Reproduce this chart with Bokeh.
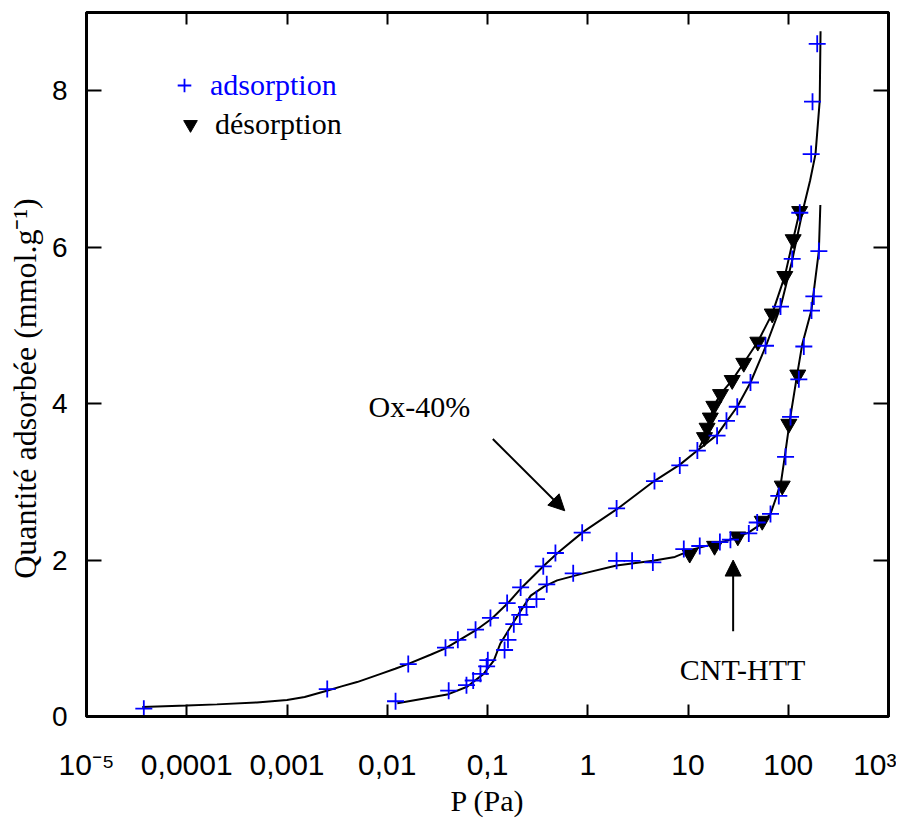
from bokeh.plotting import figure
from bokeh.models import (LogAxis, LinearAxis, FixedTicker, CustomJSTickFormatter,
                          Legend, LegendItem, Arrow, NormalHead, Range1d)
from bokeh.core.properties import value
from bokeh.embed import file_html
from bokeh.resources import INLINE

# ---------------- data ----------------
# Ox-40% adsorption (blue +)
ox_ads_p = [3.73e-5, 0.00252, 0.0162, 0.0381, 0.0506, 0.076, 0.107, 0.157, 0.214, 0.36,
            0.476, 0.88, 1.94, 4.63, 8.28, 12.4, 19.5, 24.2, 31.0, 42.0, 59.3, 83.7,
            109.5, 130.3, 169.3, 174.6, 194.5]
ox_ads_q = [0.10, 0.35, 0.67, 0.88, 0.98, 1.11, 1.26, 1.45, 1.65, 1.92,
            2.09, 2.35, 2.66, 3.01, 3.21, 3.40, 3.59, 3.78, 3.96, 4.27, 4.74, 5.24,
            5.85, 6.44, 7.19, 7.86, 8.60]
# Ox-40% desorption (black triangles)
ox_des_p = [130.0, 112.0, 92.4, 69.2, 49.7, 36.0, 27.6, 21.1, 18.1, 16.7, 15.5, 14.6]
ox_des_q = [6.46, 6.10, 5.63, 5.15, 4.79, 4.52, 4.30, 4.12, 3.97, 3.82, 3.69, 3.57]
# CNT-HTT adsorption (blue +)
cnt_ads_p = [0.0121, 0.041, 0.0617, 0.072, 0.085, 0.098, 0.1007, 0.148, 0.16, 0.183, 0.21,
             0.245, 0.308, 0.39, 0.716, 1.94, 2.77, 4.46, 9.08, 13.1, 20.8, 26.5, 40.4,
             49.0, 66.5, 80.5, 94.0, 105.4, 127.5, 143.0, 170.6, 180.0, 202.0]
cnt_ads_q = [0.195, 0.33, 0.40, 0.46, 0.545, 0.64, 0.72, 0.85, 0.98, 1.18, 1.30,
             1.40, 1.50, 1.69, 1.83, 1.99, 1.99, 1.97, 2.14, 2.18, 2.23, 2.26, 2.34,
             2.48, 2.59, 2.82, 3.32, 3.83, 4.31, 4.73, 5.19, 5.37, 5.95]
# CNT-HTT desorption (black triangles)
cnt_des_p = [10.4, 18.4, 31.4, 55.0, 87.1, 101.4, 124.5]
cnt_des_q = [2.08, 2.18, 2.30, 2.50, 2.95, 3.74, 4.37]

# fitted curves
ox_fit_p = [3.6e-5, 1.0e-4, 2.0e-4, 5.0e-4, 1.0e-3, 1.5e-3, 2.5e-3, 3.5e-3, 5.0e-3, 8.6e-3,
            0.012, 0.016, 0.027, 0.038, 0.076, 0.11, 0.16, 0.22, 0.36, 0.5, 0.9, 2.0, 4.6,
            8.3, 12.4, 19.5, 24.2, 31.0, 42.0, 60.0, 84.0, 109.0, 138.0, 165.0, 187.0,
            206.0, 210.0]
ox_fit_q = [0.12, 0.14, 0.155, 0.18, 0.21, 0.25, 0.33, 0.385, 0.44, 0.545,
            0.61, 0.67, 0.79, 0.87, 1.10, 1.25, 1.45, 1.65, 1.92, 2.09, 2.36, 2.66, 3.01,
            3.22, 3.40, 3.60, 3.77, 3.96, 4.27, 4.74, 5.24, 5.82, 6.44, 6.85, 7.19,
            7.87, 8.76]
ox_des_fit_p = [13.0, 14.6, 15.5, 16.7, 18.1, 21.1, 27.6, 36.0, 49.7, 69.2, 92.4, 112.0, 130.0]
ox_des_fit_q = [3.44, 3.57, 3.69, 3.82, 3.97, 4.12, 4.30, 4.52, 4.79, 5.15, 5.63, 6.10, 6.46]
cnt_fit_p = [0.0126, 0.0396, 0.0626, 0.0914, 0.1155, 0.134, 0.169, 0.214, 0.27, 0.366,
             0.495, 0.85, 1.94, 4.46, 7.4, 11.4, 24.9, 40.0, 53.6, 66.5, 75.8, 85.0,
             93.0, 105.0, 123.0, 138.0, 170.0, 202.0, 209.0]
cnt_fit_q = [0.17, 0.28, 0.38, 0.545, 0.715, 0.93, 1.14, 1.35, 1.545, 1.66,
             1.74, 1.82, 1.93, 1.99, 2.04, 2.14, 2.25, 2.35, 2.46, 2.59, 2.80, 3.01,
             3.35, 3.83, 4.38, 4.76, 5.19, 5.95, 6.54]

x_ticks = [1e-5, 1e-4, 1e-3, 1e-2, 1e-1, 1.0, 10.0, 100.0, 1000.0]
x_tick_labels = ["10\u207b\u2075", "0,0001", "0,001", "0,01", "0,1", "1", "10", "100", "10\u00b3"]
y_ticks = [0, 2, 4, 6, 8]

# annotations
annot_text = ["Ox-40%", "CNT-HTT"]
annot_x = [0.0065, 8.28]
annot_y = [3.96, 0.596]
arrow_x0 = [0.113, 28.2]
arrow_y0 = [3.547, 1.09]
arrow_x1 = [0.590, 28.2]
arrow_y1 = [2.63, 2.00]

SERIF = "Liberation Serif"
SANS = "Liberation Sans"

p = figure(x_axis_type="log", x_range=Range1d(1e-5, 1e3), y_range=Range1d(0, 9),
           frame_width=802, frame_height=704,
           output_backend="svg", toolbar_location=None,
           min_border_left=86, min_border_right=8, min_border_top=12, min_border_bottom=94,
           background_fill_color="white", border_fill_color="white")
p.grid.visible = False
p.outline_line_color = "black"
p.outline_line_width = 3

# bottom axis
xa = p.xaxis[0]
xa.ticker = FixedTicker(ticks=x_ticks)
xa.formatter = CustomJSTickFormatter(args=dict(tv=x_ticks, tl=x_tick_labels), code="""
    let best = 0, bd = 1e9;
    for (let i = 0; i < tv.length; i++) {
        const d = Math.abs(Math.log10(tick) - Math.log10(tv[i]));
        if (d < bd) { bd = d; best = i; }
    }
    return tl[best];
""")
xa.axis_label = "P (Pa)"
xa.axis_label_text_font = SERIF
xa.axis_label_text_font_size = "30px"
xa.axis_label_text_font_style = "normal"
xa.axis_label_text_color = "black"
xa.axis_label_standoff = 0
xa.major_label_text_font = SANS
xa.major_label_text_font_size = "30px"
xa.major_label_text_color = "black"
xa.major_label_standoff = 31
xa.major_tick_in = 12
xa.major_tick_out = 0
xa.major_tick_line_width = 2
xa.major_tick_line_color = "black"
xa.minor_tick_line_color = None
xa.axis_line_width = 3
xa.axis_line_color = "black"

ya = p.yaxis[0]
ya.ticker = FixedTicker(ticks=y_ticks)
ya.axis_label = "Quantité adsorbée (mmol.g\u207b\u00b9)" + "\u00a0" * 6
ya.axis_label_text_font = SERIF
ya.axis_label_text_font_size = "32px"
ya.axis_label_text_font_style = "normal"
ya.axis_label_text_color = "black"
ya.axis_label_standoff = 6
ya.major_label_text_font = SANS
ya.major_label_text_font_size = "28px"
ya.major_label_text_color = "black"
ya.major_label_standoff = 19
ya.major_tick_in = 15
ya.major_tick_out = 0
ya.major_tick_line_width = 2
ya.major_tick_line_color = "black"
ya.minor_tick_line_color = None
ya.axis_line_width = 3
ya.axis_line_color = "black"

top = LogAxis(ticker=FixedTicker(ticks=x_ticks), major_label_text_font_size="1px",
              major_label_text_color=None,
              major_label_standoff=0, major_tick_in=12, major_tick_out=0,
              major_tick_line_width=2, major_tick_line_color="black",
              minor_tick_line_color=None, axis_line_width=3, axis_line_color="black")
right = LinearAxis(ticker=FixedTicker(ticks=y_ticks), major_label_text_font_size="1px",
                   major_label_text_color=None,
                   major_label_standoff=0, major_tick_in=15, major_tick_out=0,
                   major_tick_line_width=2, major_tick_line_color="black",
                   minor_tick_line_color=None, axis_line_width=3, axis_line_color="black")
p.add_layout(top, "above")
p.add_layout(right, "right")

# curves
p.line(ox_fit_p, ox_fit_q, line_color="black", line_width=2)
p.line(ox_des_fit_p, ox_des_fit_q, line_color="black", line_width=2)
p.line(cnt_fit_p, cnt_fit_q, line_color="black", line_width=2)

# desorption triangles
r_des = p.scatter(ox_des_p, ox_des_q, marker="inverted_triangle", size=16,
                  fill_color="black", line_color="black")
p.scatter(cnt_des_p, cnt_des_q, marker="inverted_triangle", size=16,
          fill_color="black", line_color="black")
# adsorption crosses
r_ads = p.scatter(ox_ads_p, ox_ads_q, marker="cross", size=17,
                  line_color="#0000ff", line_width=1.8)
p.scatter(cnt_ads_p, cnt_ads_q, marker="cross", size=17,
          line_color="#0000ff", line_width=1.8)

# annotations
p.text(x=annot_x, y=annot_y, text=annot_text, text_font=value(SERIF),
       text_font_size="30px", text_baseline="alphabetic", text_align="left",
       text_color="black")
for i in range(len(arrow_x0)):
    p.add_layout(Arrow(end=NormalHead(size=16, fill_color="black", line_color="black"),
                       x_start=arrow_x0[i], y_start=arrow_y0[i],
                       x_end=arrow_x1[i], y_end=arrow_y1[i],
                       line_color="black", line_width=2))

# legends
leg1 = Legend(items=[LegendItem(label="adsorption", renderers=[r_ads])],
              location=(81, 614), label_text_color="#0000ff",
              label_text_font=SERIF, label_text_font_size="30px",
              glyph_width=34, glyph_height=34, label_standoff=9,
              padding=0, margin=0, spacing=0,
              border_line_color=None, background_fill_alpha=0)
leg2 = Legend(items=[LegendItem(label="désorption", renderers=[r_des])],
              location=(87, 575), label_text_color="black",
              label_text_font=SERIF, label_text_font_size="30px",
              glyph_width=34, glyph_height=34, label_standoff=8,
              padding=0, margin=0, spacing=0,
              border_line_color=None, background_fill_alpha=0)
p.add_layout(leg1)
p.add_layout(leg2)

open("out.html", "w").write(file_html(p, INLINE))
